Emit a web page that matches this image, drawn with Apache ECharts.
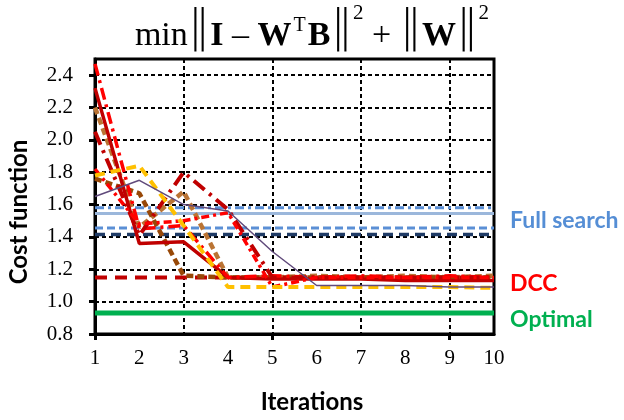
<!DOCTYPE html>
<html><head><meta charset="utf-8">
<script src="https://cdn.jsdelivr.net/npm/echarts@6/dist/echarts.min.js"></script>
<style>html,body{margin:0;padding:0;background:#fff}#c{width:624px;height:420px}</style>
</head><body><div id="c"></div>
<script>
// ---- data ----
const iterations = [1, 2, 3, 4, 5, 6, 7, 8, 9, 10];
const yTickValues = [0.8, 1.0, 1.2, 1.4, 1.6, 1.8, 2.0, 2.2, 2.4];
const xTickMarks = [1, 5, 9];

// reference levels (constant over iterations)
const fullSearchDashDot = [1.58, 1.58, 1.58, 1.58, 1.58, 1.58, 1.58, 1.58, 1.58, 1.58];
const fullSearchSolid   = [1.545, 1.545, 1.545, 1.545, 1.545, 1.545, 1.545, 1.545, 1.545, 1.545];
const fullSearchDash    = [1.455, 1.455, 1.455, 1.455, 1.455, 1.455, 1.455, 1.455, 1.455, 1.455];
const fullSearchNavy    = [1.415, 1.415, 1.415, 1.415, 1.415, 1.415, 1.415, 1.415, 1.415, 1.415];
const dccLevel          = [1.15, 1.15, 1.15, 1.15, 1.15, 1.15, 1.15, 1.15, 1.15, 1.15];
const optimalLevel      = [0.93, 0.93, 0.93, 0.93, 0.93, 0.93, 0.93, 0.93, 0.93, 0.93];

// DCC runs
const runRedLongDashDot = [2.47, 1.45, 1.47, 1.15, 1.16, 1.15, 1.16, 1.15, 1.16, 1.15];
const runDarkRedSolid   = [2.32, 1.36, 1.37, 1.15, 1.14, 1.14, 1.14, 1.13, 1.13, 1.13];
const runTanDash        = [2.20, 1.46, 1.68, 1.15, 1.15, 1.16, 1.15, 1.16, 1.15, 1.16];
const runDarkRedDashDot = [2.05, 1.41, 1.80, 1.57, 1.15, 1.15, 1.15, 1.15, 1.15, 1.15];
const runRedDashDot     = [1.82, 1.48, 1.50, 1.55, 1.09, 1.15, 1.15, 1.15, 1.15, 1.15];
const runYellowDash     = [1.78, 1.84, 1.47, 1.09, 1.09, 1.09, 1.09, 1.09, 1.09, 1.085];
const runBrownDash      = [1.76, 1.67, 1.16, 1.15, 1.15, 1.15, 1.15, 1.15, 1.15, 1.15];
const runPurple         = [1.65, 1.75, 1.60, 1.56, 1.31, 1.10, 1.10, 1.10, 1.09, 1.09];

// ---- chart ----
const pts = arr => iterations.map((x, i) => [x, arr[i]]);
function line(arr, color, width, type, z) {
  return {
    type: 'line', data: pts(arr), symbol: 'none', silent: true, z: z || 2,
    lineStyle: { color: color, width: width, type: type || 'solid' }
  };
}
const chart = echarts.init(document.getElementById('c'), null, { renderer: 'canvas' });
const serif = "Liberation Serif";
const barFont = "DejaVu Sans";
const tickRich = { s: { fontFamily: serif, fontWeight: 'normal', fontSize: 21, color: '#000' } };
chart.setOption({
  animation: false,
  backgroundColor: '#fff',
  textStyle: { fontFamily: serif, fontWeight: 'normal' },
  title: {
    left: 'center', top: 0, padding: 0,
    text: '{n|min}{bar|‖}{b|I}{n| – }{b|W}{supT|T}{b|B}{bar|‖}{sup|2}{n| + }{bar|‖}{b|W}{bar|‖}{sup|2}',
    textStyle: {
      fontFamily: serif, fontWeight: 'normal',
      rich: {
        n:   { fontFamily: serif, fontWeight: 'normal', fontSize: 34, color: '#000', verticalAlign: 'bottom', lineHeight: 34, padding: [0, 0, 5, 0] },
        b:   { fontFamily: serif, fontWeight: 'bold', fontSize: 34, color: '#000', verticalAlign: 'bottom', lineHeight: 34, padding: [0, 0, 5, 0] },
        bar: { fontFamily: barFont, fontWeight: 200, fontSize: 45, color: '#000', verticalAlign: 'middle', lineHeight: 58 },
        sup: { fontFamily: serif, fontWeight: 'normal', fontSize: 21, color: '#000', verticalAlign: 'top', lineHeight: 21, padding: [3, 0, 0, 0] },
        supT:{ fontFamily: serif, fontWeight: 'normal', fontSize: 20, color: '#000', verticalAlign: 'top', lineHeight: 20, padding: [16, 2, 0, 2] }
      }
    }
  },
  grid: { left: 95, top: 59, width: 399, height: 275, show: true, borderColor: '#000', borderWidth: 3, backgroundColor: '#fff' },
  xAxis: [
    {
      type: 'value', min: 1, max: 10, interval: 1,
      axisLine: { show: true, onZero: false, lineStyle: { color: '#000', width: 3 } },
      axisTick: { show: true, customValues: xTickMarks, length: 6, lineStyle: { color: '#000', width: 3 } },
      axisLabel: { fontFamily: serif, fontSize: 20, color: '#000', margin: 14,
        formatter: v => '{s|' + v + '}', rich: tickRich },
      splitLine: { show: false }
    },
    {
      type: 'value', min: 1, max: 10, interval: 2,
      axisLine: { show: false }, axisTick: { show: false }, axisLabel: { show: false },
      splitLine: { show: true, lineStyle: { color: '#000', width: 2, type: [4, 3] } }
    }
  ],
  yAxis: {
    type: 'value', min: 0.8, max: 2.5, interval: 0.2,
    axisLine: { show: true, lineStyle: { color: '#000', width: 3 } },
    axisTick: { show: true, customValues: yTickValues, length: 6, lineStyle: { color: '#000', width: 3 } },
    axisLabel: { customValues: yTickValues, fontFamily: serif, fontSize: 21, color: '#000', margin: 22,
      formatter: v => '{s|' + (+v).toFixed(1) + '}', rich: tickRich },
    splitLine: { show: true, lineStyle: { color: '#000', width: 2, type: [4, 3] } }
  },
  series: [
    line(fullSearchSolid, '#9BB7DB', 3, 'solid'),
    line(fullSearchDashDot, '#5B8FD5', 3, [9, 4, 3, 4]),
    line(fullSearchDash, '#5B8FD5', 3, [8, 4]),
    line(fullSearchNavy, '#1F3B66', 3.5, [10, 6]),
    line(dccLevel, '#C00000', 4, [12, 8]),
    line(optimalLevel, '#00B050', 5, 'solid'),
    line(runTanDash, '#BA7434', 4.5, [7, 4]),
    line(runBrownDash, '#984807', 4.5, [7, 4]),
    line(runDarkRedSolid, '#C00000', 3.5, 'solid'),
    line(runRedLongDashDot, '#FF0000', 3.5, [12, 5, 3, 5]),
    line(runDarkRedDashDot, '#C00000', 4, [14, 6, 3, 6]),
    line(runRedDashDot, '#FF0000', 3.5, [8, 4, 3, 4]),
    line(runYellowDash, '#FFC000', 4, [10, 6]),
    line(runPurple, '#604A7B', 1.5, 'solid', 3)
  ],
  graphic: [
    { type: 'text', x: 19, y: 212, rotation: Math.PI / 2,
      style: { text: 'Cost function', font: 'bold 24px Lato', fill: '#000', align: 'center', verticalAlign: 'middle' } },
    { type: 'text', x: 312, y: 402,
      style: { text: 'Iterations', font: 'bold 24px Lato', fill: '#000', align: 'center', verticalAlign: 'middle' } },
    { type: 'text', x: 510, y: 221,
      style: { text: 'Full search', font: 'bold 23px Lato', fill: '#558ED5', align: 'left', verticalAlign: 'middle' } },
    { type: 'text', x: 510, y: 284,
      style: { text: 'DCC', font: 'bold 23px Lato', fill: '#FF0000', align: 'left', verticalAlign: 'middle' } },
    { type: 'text', x: 510, y: 320,
      style: { text: 'Optimal', font: 'bold 23px Lato', fill: '#00B050', align: 'left', verticalAlign: 'middle' } }
  ]
});
</script>
</body></html>
